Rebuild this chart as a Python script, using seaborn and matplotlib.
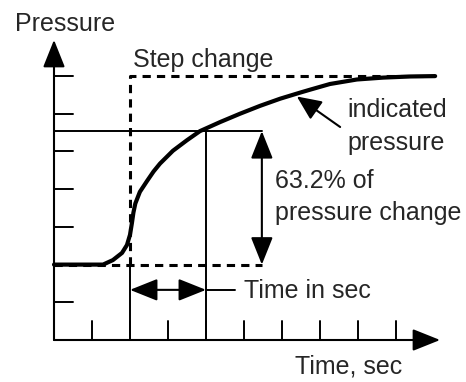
import matplotlib
matplotlib.use('Agg')
import matplotlib.pyplot as plt
import seaborn as sns
import pandas as pd

# Curva de presion indicada (en unidades de la cuadricula).
tiempo = [0.0, 0.95, 1.29, 1.55, 1.79, 1.92, 2.0, 2.05, 2.09, 2.14, 2.26, 2.45,
          2.62, 2.79, 3.13, 3.5, 3.84, 4.37, 4.89, 5.42, 5.95, 6.47, 6.74,
          7.26, 7.97, 8.66, 9.37, 10.03]
presion = [2.0, 2.0, 2.0, 2.12, 2.31, 2.52, 2.79, 3.1, 3.38, 3.62, 3.93, 4.22,
           4.47, 4.68, 5.02, 5.3, 5.54, 5.78, 6.0, 6.21, 6.4, 6.56, 6.64,
           6.79, 6.91, 6.96, 6.99, 7.0]

# Cambio escalon: base, tope, instante del escalon y fin.
escalon_x = [0.0, 2.0, 2.0, 10.03]
escalon_y = [2.0, 2.0, 7.0, 7.0]
base_fin = 5.47          # fin de la linea base punteada / flecha del 63.2%
nivel_632 = 5.54         # nivel horizontal marcado
t_632 = 4.0              # tiempo en que se alcanza
marcas_x = [1, 2, 3, 4, 5, 6, 7, 8, 9]
marcas_y = [1, 2, 3, 4, 5, 6, 7]

sns.set_style('white')
plt.rcParams['font.family'] = ['Liberation Sans', 'DejaVu Sans']

fig = plt.figure(figsize=(4.66, 3.82), dpi=100)
ax = fig.add_axes([0, 0, 1, 1])
ax.set_xlim(-54 / 38, (466 - 54) / 38)
ax.set_ylim((340 - 382) / 37.7, 340 / 37.7)
ax.axis('off')

flecha = dict(arrowstyle='-|>,head_length=1.0,head_width=0.4', mutation_scale=17,
              color='black', lw=1.5, shrinkA=0, shrinkB=0)
doble = dict(arrowstyle='<|-|>,head_length=1.0,head_width=0.4', mutation_scale=17,
             color='black', lw=1.5, shrinkA=0, shrinkB=0)

# Ejes con flecha
ax.annotate('', xy=(0, 7.96), xytext=(0, 0), arrowprops=flecha)
ax.annotate('', xy=(10.16, 0), xytext=(0, 0), arrowprops=flecha)

# Marcas de los ejes
for t in marcas_x:
    ax.plot([t, t], [0, 0.5], color='black', lw=1.4)
for t in marcas_y:
    ax.plot([0, 0.5], [t, t], color='black', lw=1.4)

# Lineas guia
ax.plot([0, base_fin], [nivel_632, nivel_632], color='black', lw=1.4)
ax.plot([t_632, t_632], [0, nivel_632], color='black', lw=1.4)
ax.plot([2, 2], [0, 2], color='black', lw=1.4)

# Escalon punteado
ax.plot(escalon_x[:2] + [base_fin], [2, 2, 2], color='black', lw=2.2,
        linestyle=(0, (2.7, 2)))
ax.plot(escalon_x[1:], escalon_y[1:], color='black', lw=2.2,
        linestyle=(0, (2.7, 2)))

# Curva indicada
df = pd.DataFrame({'t': tiempo, 'p': presion})
sns.lineplot(data=df, x='t', y='p', ax=ax, color='black', linewidth=3,
             solid_joinstyle='round', solid_capstyle='round')
ax.set_xlabel('')
ax.set_ylabel('')

# Flechas de anotacion
ax.annotate('', xy=(base_fin, nivel_632), xytext=(base_fin, 2), arrowprops=doble)
ax.annotate('', xy=(4.0, 1.33), xytext=(2.0, 1.33), arrowprops=doble)
ax.plot([4.0, 4.76], [1.33, 1.33], color='black', lw=1.4)
ax.annotate('', xy=(6.39, 6.46), xytext=(7.53, 5.65),
            arrowprops=dict(arrowstyle='-|>,head_length=1.0,head_width=0.45',
                            mutation_scale=15, color='black', lw=1.5,
                            shrinkA=0, shrinkB=0))

fs = 18
ax.text(-1.03, 8.2, 'Pressure', fontsize=fs, va='baseline')
ax.text(2.08, 7.24, 'Step change', fontsize=fs, va='baseline')
ax.text(7.71, 5.92, 'indicated', fontsize=fs, va='baseline')
ax.text(7.71, 5.04, 'pressure', fontsize=fs, va='baseline')
ax.text(5.82, 4.03, '63.2% of', fontsize=fs, va='baseline')
ax.text(5.82, 3.18, 'pressure change', fontsize=fs, va='baseline')
ax.text(5.0, 1.11, 'Time in sec', fontsize=fs, va='baseline')
ax.text(6.34, -0.9, 'Time, sec', fontsize=fs, va='baseline')

plt.savefig('out.png', dpi=100)
